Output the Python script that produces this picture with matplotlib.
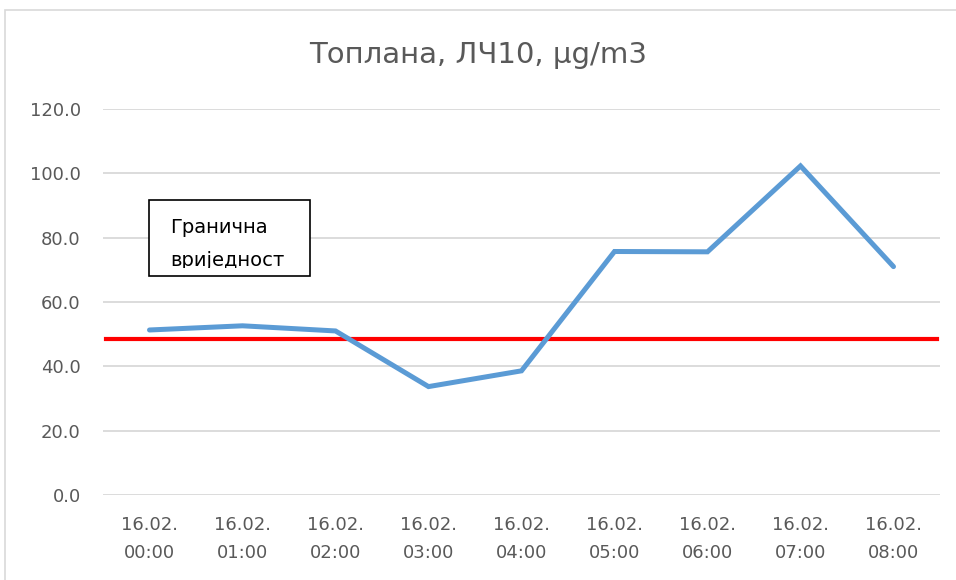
import matplotlib.pyplot as plt
from matplotlib.patches import Rectangle

plt.rcParams['font.family'] = ['DejaVu Sans']

categories = ["16.02.\n00:00", "16.02.\n01:00", "16.02.\n02:00", "16.02.\n03:00", "16.02.\n04:00",
              "16.02.\n05:00", "16.02.\n06:00", "16.02.\n07:00", "16.02.\n08:00"]
pm10 = [51.3, 52.6, 51.0, 33.7, 38.6, 75.7, 75.6, 102.3, 71.0]
limit_value = 48.5
y_ticks = [0, 20, 40, 60, 80, 100, 120]

W, H = 956, 580
fig = plt.figure(figsize=(W / 100, H / 100), dpi=100)

# chart border
fig.patches.append(Rectangle((5 / W, -0.1), 1.2, 1 - 10 / H + 0.1, transform=fig.transFigure,
                             fill=False, edgecolor="#D9D9D9", linewidth=1.2))

ax = fig.add_axes([103 / W, 1 - 495 / H, 837 / W, (495 - 109) / H])
x = list(range(len(categories)))

ax.axhline(limit_value, xmin=0.003, xmax=0.997, color="#FF0000", linewidth=3, zorder=2)
ax.plot(x, pm10, color="#5B9BD5", linewidth=3.6, solid_capstyle="round",
        solid_joinstyle="miter", zorder=3)

ax.set_xlim(-0.5, len(categories) - 0.5)
ax.set_ylim(0, 120)
ax.set_yticks(y_ticks)
ax.set_yticklabels([f"{v:.1f}" for v in y_ticks])
ax.set_xticks(x)
ax.set_xticklabels(categories, linespacing=1.75)
ax.grid(axis="y", color="#D9D9D9", linewidth=1.3)
ax.set_axisbelow(True)
for s in ax.spines.values():
    s.set_visible(False)
ax.tick_params(length=0, labelsize=13, colors="#595959")
ax.tick_params(axis="x", pad=15)
ax.tick_params(axis="y", pad=16)

fig.text(0.5, 1 - 55 / H, "Топлана, ЛЧ10, µg/m3", ha="center", va="center",
         fontsize=21, color="#595959")

# text box, label clipped at the inner edge like the original
box = Rectangle((149 / W, 1 - 276 / H), 161 / W, 76 / H, transform=fig.transFigure,
                facecolor="white", edgecolor="black", linewidth=1.2, zorder=5)
fig.patches.append(box)
inner = Rectangle((150 / W, 1 - 268 / H), 159 / W, 66 / H, transform=fig.transFigure,
                  fill=False, edgecolor="none")
fig.patches.append(inner)
for label, base in [("Гранична", 233), ("вриједност", 266)]:
    t = fig.text(170 / W, 1 - base / H, label, ha="left", va="baseline",
                 fontsize=14, color="black", zorder=6)
    t.set_clip_path(inner)

fig.savefig("out.png", dpi=100)
